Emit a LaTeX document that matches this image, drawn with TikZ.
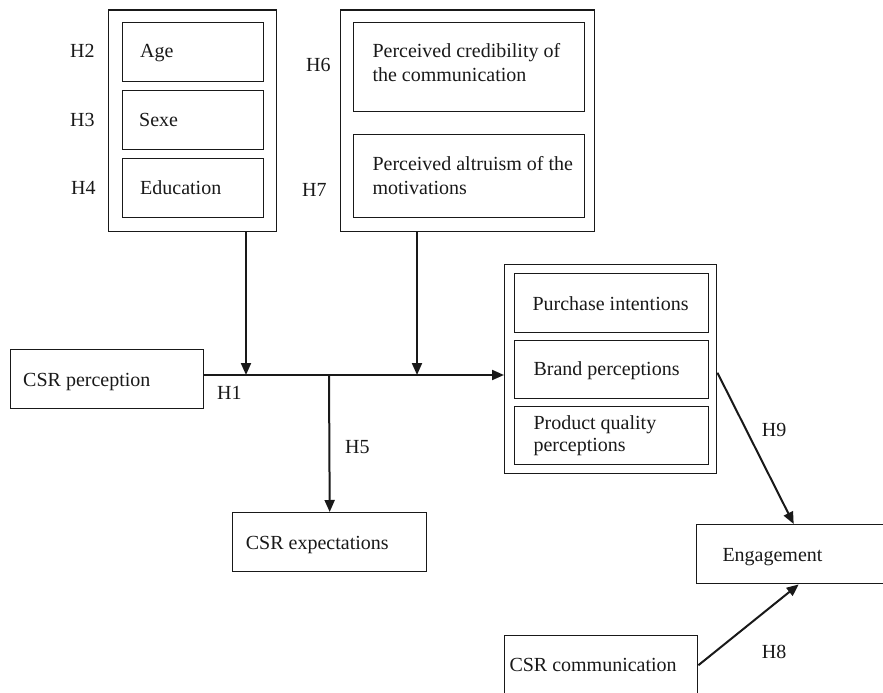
\documentclass[tikz,border=0pt]{standalone}
\usepackage{fontspec}
\setmainfont{Liberation Serif}
\usetikzlibrary{arrows.meta,calc}
\tikzset{
  box/.style={draw=black!90, line width=1.4pt, anchor=north west, inner sep=0pt, fill=none},
  txt/.style={anchor=base west, inner sep=0pt, align=left, text=black!90,
    font=\fontsize{20}{24}\selectfont},
  lbl/.style={anchor=base west, inner sep=0pt, text=black!90, font=\fontsize{20}{24}\selectfont},
  arr/.style={draw=black!90, line width=2pt, -{Triangle[length=12pt,width=10pt]}},
  ln/.style={draw=black!90, line width=2pt}
}
\begin{document}
\begin{tikzpicture}[x=1pt,y=-1pt]
\useasboundingbox (0,0) rectangle (883,693);
\clip (0,0) rectangle (883,693);
% left group
\node[box, minimum width=168pt, minimum height=221.5pt] (lg) at (108,9.5) {};
\node[box, minimum width=141pt, minimum height=59pt] (age) at (122,22) {};
\node[box, minimum width=141pt, minimum height=59pt] (sexe) at (122,90) {};
\node[box, minimum width=141pt, minimum height=59pt] (edu) at (122,158) {};
\node[txt] (agetxt) at (140,57) {Age};
\node[txt] (sexetxt) at (139,126) {Sexe};
\node[txt] (edutxt) at (140,194) {Education};
\node[lbl] (h2) at (70,57.3) {H2};
\node[lbl] (h3) at (70,126) {H3};
\node[lbl] (h4) at (71,194) {H4};
% right group
\node[box, minimum width=254pt, minimum height=221.5pt] (rg) at (340,9.5) {};
\node[box, minimum width=231pt, minimum height=89pt] (cred) at (353,22) {};
\node[box, minimum width=231pt, minimum height=83pt] (altr) at (353,134) {};
\node[txt, font=\fontsize{20}{24.5}\selectfont] (credtxt) at (372.3,81.7) {Perceived credibility of\\the communication};
\node[txt, font=\fontsize{20}{24.5}\selectfont] (altrtxt) at (372.3,194.5) {Perceived altruism of the\\motivations};
\node[lbl] (h6) at (306,71.7) {H6};
\node[lbl] (h7) at (302,196) {H7};
% CSR perception
\node[box, minimum width=193pt, minimum height=59pt] (cp) at (10,349) {};
\node[txt] (cptxt) at (23,386) {CSR perception};
% outcomes group
\node[box, minimum width=212pt, minimum height=209pt] (og) at (504,264) {};
\node[box, minimum width=194pt, minimum height=59pt] (pi) at (514,273) {};
\node[box, minimum width=194pt, minimum height=58pt] (bp) at (514,340) {};
\node[box, minimum width=194pt, minimum height=58pt] (pq) at (514,406) {};
\node[txt] (pitxt) at (532.3,310) {Purchase intentions};
\node[txt] (bptxt) at (533.3,375) {Brand perceptions};
\node[txt, font=\fontsize{20}{22.4}\selectfont] (pqtxt) at (533.3,451.7) {Product quality\\perceptions};
% CSR expectations
\node[box, minimum width=194pt, minimum height=59pt] (ce) at (232,512) {};
\node[txt] (cetxt) at (245.7,549.3) {CSR expectations};
% Engagement
\node[box, minimum width=194pt, minimum height=59pt] (eng) at (696,524) {};
\node[txt] (engtxt) at (722.3,561.7) {Engagement};
% CSR communication
\node[box, minimum width=193pt, minimum height=59pt] (cc) at (504,635) {};
\node[txt] (cctxt) at (509.3,671.7) {CSR communication};
% junctions
\coordinate (j1) at (246,375);
\coordinate (j2) at (417,375);
\coordinate (j5) at (329,375);
% connectors
\draw[arr] (cp.east |- j5) -- (og.west |- j5);
\draw[arr] (lg.south -| j1) -- (j1);
\draw[arr] (rg.south -| j2) -- (j2);
\draw[arr] (j5) -- (ce.north);
\draw[arr] ($(og.east)+(0,3.5)$) -- (eng.north);
\draw[arr] (cc.east) -- ($(eng.south)+(5,0)$);
% labels
\node[lbl] (h1) at (217,399.3) {H1};
\node[lbl] (h5) at (345,453.3) {H5};
\node[lbl] (h9) at (761.7,436) {H9};
\node[lbl] (h8) at (761.7,658.3) {H8};
\end{tikzpicture}
\end{document}
